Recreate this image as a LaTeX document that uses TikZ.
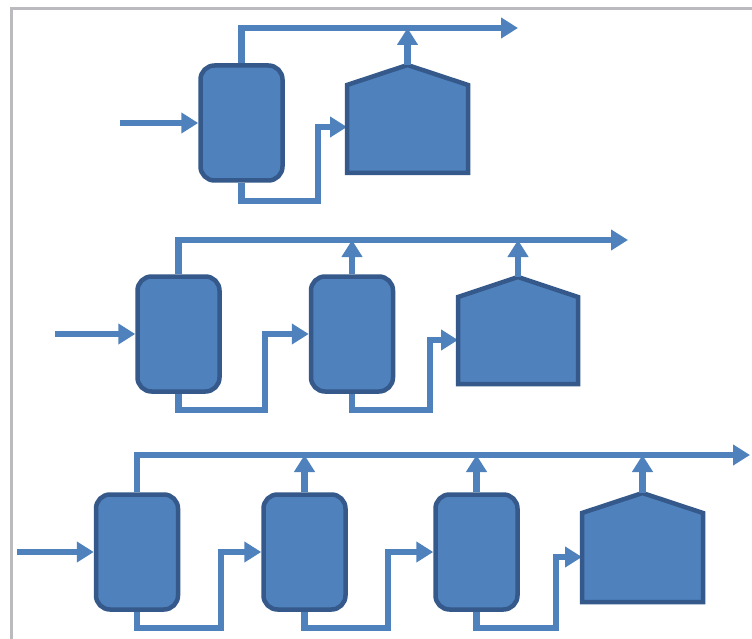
\documentclass[tikz,border=0pt]{standalone}
\usetikzlibrary{arrows.meta}
\definecolor{fillblue}{HTML}{4F81BD}
\definecolor{edgeblue}{HTML}{34598A}
\definecolor{lineblue}{HTML}{4F81BD}
\definecolor{framegray}{HTML}{BBBBBF}
\tikzset{
  vessel/.style={draw=edgeblue, fill=fillblue, line width=4.5pt, rounded corners=14pt,
    minimum width=82pt, minimum height=115pt, inner sep=0pt},
  evap/.style={draw=edgeblue, fill=fillblue, line width=4.5pt, line join=miter},
  flow/.style={draw=lineblue, line width=6.5pt},
  flowarrow/.style={flow, -{Triangle[length=17pt,width=20pt]}},
  frameline/.style={draw=framegray, line width=3pt}
}
\begin{document}
\begin{tikzpicture}[x=1pt,y=-1pt]
\useasboundingbox (0,0) rectangle (752,639);
% frame
\coordinate (fa) at (11,639);
\coordinate (fb) at (11,9);
\coordinate (fc) at (752,9);
\draw[frameline] (fa) -- (fb) -- (fc);

% ---------- Row 1 ----------
\coordinate (t1) at (518,28);
\coordinate (b11) at (318,201);
\coordinate (e1in) at (347,127);
\coordinate (e1apex) at (407.5,65);
\node[vessel] (v11) at (241.5,123) {};
\path (v11.west) ++(-78,0) coordinate (in1);
\draw[flowarrow] (v11.north) |- (t1);
\draw[flowarrow] (v11.south) |- (b11) |- (e1in);
\draw[evap] (347,173) -- (347,85) -- (e1apex) -- (468,85) -- (468,173) -- cycle;
\draw[flowarrow] (in1) -- (v11.west);
\draw[flowarrow] (e1apex) -- (e1apex |- t1);

% ---------- Row 2 ----------
\coordinate (t2) at (628,240);
\coordinate (b21) at (265,410);
\coordinate (b22) at (430,410);
\coordinate (e2in) at (458,340);
\coordinate (e2apex) at (518,277);
\node[vessel] (v21) at (178.5,334) {};
\node[vessel] (v22) at (352,334) {};
\path (v21.west) ++(-80,0) coordinate (in2);
\draw[flowarrow] (v21.north) |- (t2);
\draw[flowarrow] (v21.south) |- (b21) |- (v22.west);
\draw[flowarrow] (v22.south) |- (b22) |- (e2in);
\draw[evap] (458,384) -- (458,297) -- (e2apex) -- (578,297) -- (578,384) -- cycle;
\draw[flowarrow] (in2) -- (v21.west);
\draw[flowarrow] (v22.north) -- (v22.north |- t2);
\draw[flowarrow] (e2apex) -- (e2apex |- t2);

% ---------- Row 3 ----------
\coordinate (t3) at (750,455);
\coordinate (b31) at (221,628);
\coordinate (b32) at (388,628);
\coordinate (b33) at (556,628);
\coordinate (e3in) at (582,557);
\coordinate (e3apex) at (642.5,493);
\node[vessel] (v31) at (137,552) {};
\node[vessel] (v32) at (304.5,552) {};
\node[vessel] (v33) at (476.5,552) {};
\path (v31.west) ++(-77,0) coordinate (in3);
\draw[flowarrow] (v31.north) |- (t3);
\draw[flowarrow] (v31.south) |- (b31) |- (v32.west);
\draw[flowarrow] (v32.south) |- (b32) |- (v33.west);
\draw[flowarrow] (v33.south) |- (b33) |- (e3in);
\draw[evap] (582,602) -- (582,513) -- (e3apex) -- (703,513) -- (703,602) -- cycle;
\draw[flowarrow] (in3) -- (v31.west);
\draw[flowarrow] (v32.north) -- (v32.north |- t3);
\draw[flowarrow] (v33.north) -- (v33.north |- t3);
\draw[flowarrow] (e3apex) -- (e3apex |- t3);
\end{tikzpicture}
\end{document}
